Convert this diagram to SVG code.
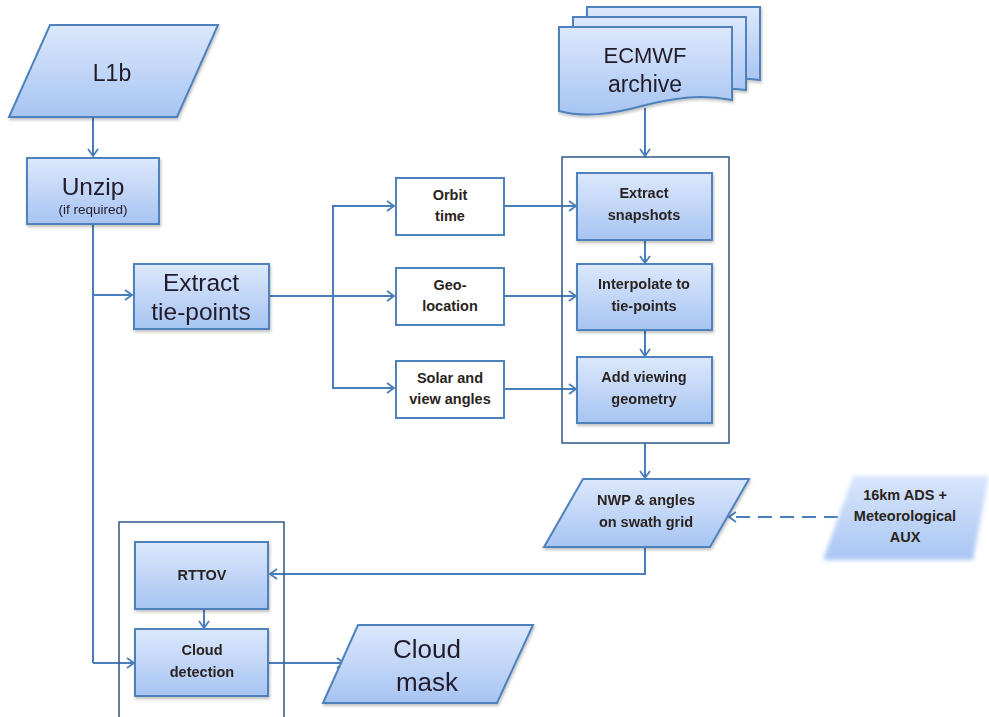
<svg xmlns="http://www.w3.org/2000/svg" width="989" height="717" viewBox="0 0 989 717">
<style>
.shape{fill:url(#g);stroke:#4f81bd;stroke-width:2}
.plain{fill:#fff;stroke:#4f81bd;stroke-width:2}
.frame{fill:none;stroke:#3b5f8f;stroke-width:1.6}
.conn{fill:none;stroke:#4a7ebb;stroke-width:2}
.t{font-family:"Liberation Sans",Arial,sans-serif;fill:#221a2a;text-anchor:middle}
.big{font-size:24.5px}
.sm{font-size:14.5px;font-weight:bold;fill:#2a2420}
</style>
<defs>
<linearGradient id="g" x1="0" y1="0" x2="0" y2="1">
<stop offset="0" stop-color="#dce8fc"/>
<stop offset="1" stop-color="#a7c4f2"/>
</linearGradient>
<linearGradient id="g2" x1="0" y1="0" x2="0" y2="1">
<stop offset="0" stop-color="#d9e6fb"/>
<stop offset="1" stop-color="#a9c6f3"/>
</linearGradient>
<filter id="sh" x="-10%" y="-10%" width="130%" height="130%">
<feDropShadow dx="1" dy="2" stdDeviation="1.5" flood-color="#000" flood-opacity="0.25"/>
</filter>
<filter id="blur" x="-20%" y="-20%" width="140%" height="140%">
<feGaussianBlur stdDeviation="2.2"/>
</filter>
<marker id="a" markerWidth="12" markerHeight="12" refX="9" refY="6" orient="auto" markerUnits="userSpaceOnUse">
<polyline points="2,1 9,6 2,11" fill="none" stroke="#4a7ebb" stroke-width="1.8"/>
</marker>
</defs>

<g id="connectors">
<line class="conn" x1="93" y1="117" x2="93" y2="156" marker-end="url(#a)"/>
<line class="conn" x1="93" y1="224" x2="93" y2="663"/>
<line class="conn" x1="93" y1="295" x2="132" y2="295" marker-end="url(#a)"/>
<line class="conn" x1="93" y1="663" x2="134" y2="663" marker-end="url(#a)"/>
<line class="conn" x1="269" y1="296" x2="394" y2="296" marker-end="url(#a)"/>
<polyline class="conn" points="394,206 333,206 333,388 394,388" marker-end="url(#a)"/>
<line class="conn" x1="333" y1="206" x2="394" y2="206" marker-end="url(#a)"/>
<line class="conn" x1="504" y1="206" x2="576" y2="206" marker-end="url(#a)"/>
<line class="conn" x1="504" y1="296" x2="576" y2="296" marker-end="url(#a)"/>
<line class="conn" x1="504" y1="389" x2="576" y2="389" marker-end="url(#a)"/>
<line class="conn" x1="645" y1="240" x2="645" y2="263" marker-end="url(#a)"/>
<line class="conn" x1="645" y1="330" x2="645" y2="356" marker-end="url(#a)"/>
<line class="conn" x1="645" y1="108" x2="645" y2="156" marker-end="url(#a)"/>
<line class="conn" x1="645" y1="443" x2="645" y2="478" marker-end="url(#a)"/>
<polyline class="conn" points="645,547 645,574 270,574" marker-end="url(#a)"/>
<line class="conn" x1="838" y1="517" x2="729" y2="517" stroke-dasharray="14,8" marker-end="url(#a)"/>
<line class="conn" x1="204" y1="609" x2="204" y2="628" marker-end="url(#a)"/>
<line class="conn" x1="268" y1="663" x2="344" y2="663" marker-end="url(#a)"/>
</g>

<g id="frame-ecmwf"><rect class="frame" x="562" y="157" width="167" height="286"/></g>
<g id="frame-rttov"><rect class="frame" x="119" y="522" width="165" height="200"/></g>

<g id="l1b" filter="url(#sh)">
<polygon class="shape" points="50,25 218,25 177,117 9,117"/>
<text class="t" x="112" y="81" font-size="23">L1b</text>
</g>

<g id="unzip" filter="url(#sh)">
<rect class="shape" x="27" y="158" width="132" height="66"/>
<text class="t big" x="93" y="195">Unzip</text>
<text class="t" x="93" y="214" font-size="13.5">(if required)</text>
</g>

<g id="extract-tie-points" filter="url(#sh)">
<rect class="shape" x="134" y="264" width="135" height="65"/>
<text class="t big" x="201" y="291">Extract</text>
<text class="t big" x="201" y="320">tie-points</text>
</g>

<g id="orbit-time">
<rect class="plain" x="396" y="178" width="108" height="57"/>
<text class="t sm" x="450" y="200">Orbit</text>
<text class="t sm" x="450" y="221">time</text>
</g>

<g id="geo-location">
<rect class="plain" x="396" y="268" width="108" height="57"/>
<text class="t sm" x="450" y="290">Geo-</text>
<text class="t sm" x="450" y="311">location</text>
</g>

<g id="solar-view-angles">
<rect class="plain" x="396" y="361" width="108" height="57"/>
<text class="t sm" x="450" y="383">Solar and</text>
<text class="t sm" x="450" y="404">view angles</text>
</g>

<g id="ecmwf-archive" filter="url(#sh)">
<path class="shape" d="M587,7 H760 V80 C735,76 715,80 700,84 H587 Z"/>
<path class="shape" d="M573,17 H746 V90 C720,86 700,90 680,96 H573 Z"/>
<path class="shape" d="M559,27 H732 V100 C700,94 672,98 642,106 C612,114 585,118 559,111 Z"/>
<text class="t" x="645" y="63" font-size="22">ECMWF</text>
<text class="t" x="645" y="92" font-size="23">archive</text>
</g>

<g id="extract-snapshots" filter="url(#sh)">
<rect class="shape" x="577" y="173" width="135" height="67"/>
<text class="t sm" x="644" y="198">Extract</text>
<text class="t sm" x="644" y="220">snapshots</text>
</g>

<g id="interpolate" filter="url(#sh)">
<rect class="shape" x="577" y="264" width="135" height="66"/>
<text class="t sm" x="644" y="289">Interpolate to</text>
<text class="t sm" x="644" y="311">tie-points</text>
</g>

<g id="add-viewing-geometry" filter="url(#sh)">
<rect class="shape" x="577" y="357" width="135" height="66"/>
<text class="t sm" x="644" y="382">Add viewing</text>
<text class="t sm" x="644" y="404">geometry</text>
</g>

<g id="nwp-angles" filter="url(#sh)">
<polygon class="shape" points="583,479 749,479 710,547 544,547"/>
<text class="t sm" x="646" y="505">NWP &amp; angles</text>
<text class="t sm" x="646" y="527">on swath grid</text>
</g>

<g id="ads-aux">
<polygon points="853,476 989,476 973,560 823,560" fill="url(#g2)" filter="url(#blur)"/>
<text class="t sm" x="905" y="500">16km ADS +</text>
<text class="t sm" x="905" y="521">Meteorological</text>
<text class="t sm" x="905" y="542">AUX</text>
</g>

<g id="rttov" filter="url(#sh)">
<rect class="shape" x="135" y="542" width="133" height="67"/>
<text class="t sm" x="202" y="580" font-size="13">RTTOV</text>
</g>

<g id="cloud-detection" filter="url(#sh)">
<rect class="shape" x="135" y="629" width="133" height="67"/>
<text class="t sm" x="202" y="655">Cloud</text>
<text class="t sm" x="202" y="677">detection</text>
</g>

<g id="cloud-mask" filter="url(#sh)">
<polygon class="shape" points="358,625 533,625 497,703 323,703"/>
<text class="t" x="427" y="658" font-size="26">Cloud</text>
<text class="t" x="427" y="691" font-size="26">mask</text>
</g>
</svg>
